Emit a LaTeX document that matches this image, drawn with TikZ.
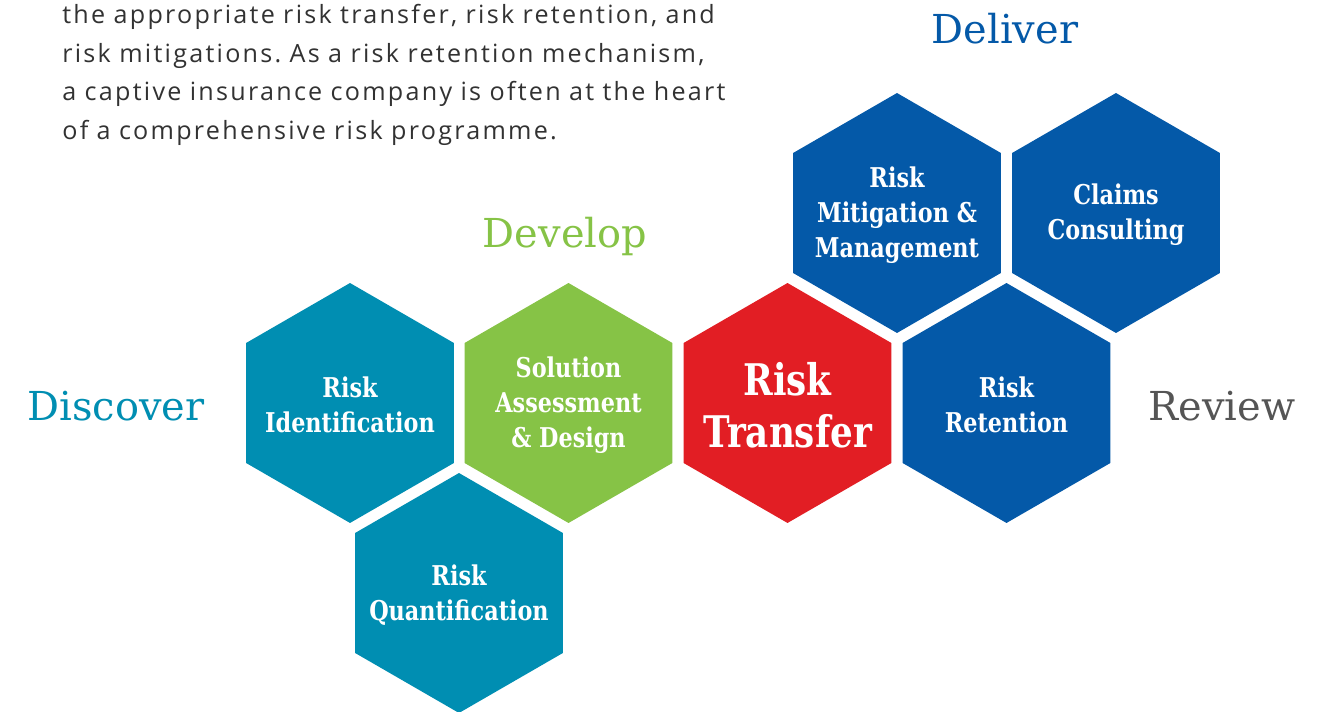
\documentclass[tikz,border=0pt]{standalone}
\usepackage{fontspec}
\usetikzlibrary{shapes.geometric}
\newfontfamily\lblfont{DejaVu Serif}[FakeStretch=0.82]
\newfontfamily\headfont{DejaVu Serif}
\newfontfamily\bodyfont{Open Sans}[LetterSpace=9]
\definecolor{cteal}{RGB}{0,142,178}
\definecolor{cgreen}{RGB}{134,195,70}
\definecolor{cred}{RGB}{226,30,36}
\definecolor{cblue}{RGB}{4,89,168}
\definecolor{cgray}{RGB}{85,85,85}
\definecolor{cbody}{RGB}{50,50,50}
\frenchspacing
\begin{document}
\begin{tikzpicture}[x=0.02cm,y=-0.02cm,
  hexa/.style={regular polygon, regular polygon sides=6, shape border rotate=30,
    minimum size=4.8cm, inner sep=0pt, outer sep=0pt},
  lbl/.style={text=white, align=center, inner sep=0pt,
    font=\lblfont\bfseries\fontsize{15.5}{19.8}\selectfont},
  biglbl/.style={text=white, align=center, inner sep=0pt,
    font=\lblfont\bfseries\fontsize{24.8}{29.5}\selectfont},
  head/.style={anchor=base, inner sep=0pt,
    font=\headfont\fontsize{22.7}{27}\selectfont},
  body/.style={anchor=base west, inner sep=0pt, text width=14cm, align=left,
    text=cbody, font=\bodyfont\fontsize{14.3}{21.9}\selectfont}]
\useasboundingbox[fill=white] (0,0) rectangle (1320,712);

\node[body] (para) at (62,24) {the appropriate risk transfer, risk retention, and\\
risk mitigations. As a risk retention mechanism,\\
a captive insurance company is often at the heart\\
of a comprehensive risk programme.};

\node[hexa, fill=cteal]  (ident) at (350,403) {};
\node[hexa, fill=cgreen] (sol)   at (568.5,403) {};
\node[hexa, fill=cred]   (trans) at (787.5,403) {};
\node[hexa, fill=cblue]  (ret)   at (1006.5,403) {};
\node[hexa, fill=cteal]  (quant) at (459,593) {};
\node[hexa, fill=cblue]  (mitig) at (897,213) {};
\node[hexa, fill=cblue]  (claims) at (1116,213) {};

\node[lbl] (identt) at ([yshift=-0.04cm]ident) {Risk\\Identification};
\node[lbl] (solt) at ([yshift=-0.04cm]sol) {Solution\\Assessment\\\&~Design};
\node[biglbl] (transt) at ([yshift=-0.04cm]trans) {Risk\\Transfer};
\node[lbl] (rett) at ([yshift=-0.04cm]ret) {Risk\\Retention};
\node[lbl] (quantt) at ([yshift=-0.04cm]quant) {Risk\\Quantification};
\node[lbl] (mitigt) at ([yshift=-0.04cm]mitig) {Risk\\Mitigation \&\\Management};
\node[lbl] (claimst) at ([yshift=-0.04cm]claims) {Claims\\Consulting};

\node[head, text=cblue]  (deliver)  at (1005,44) {Deliver};
\node[head, text=cgreen] (develop)  at (565,248) {Develop};
\node[head, text=cteal]  (discover) at (116,421) {Discover};
\node[head, text=cgray]  (review)   at (1222,421) {Review};
\end{tikzpicture}
\end{document}
